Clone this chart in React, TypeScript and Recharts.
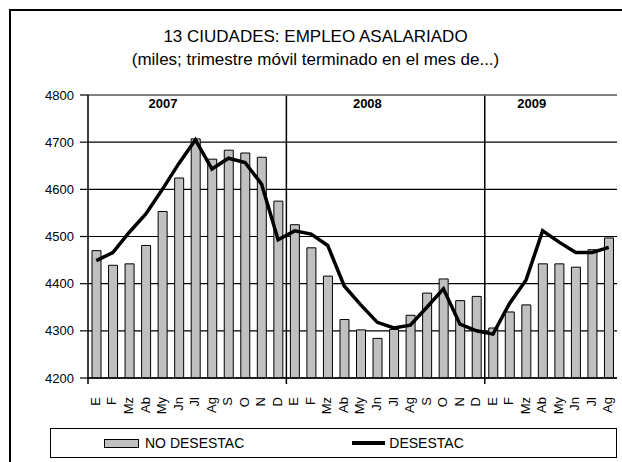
import React from 'react';
import {
  ComposedChart,
  Bar,
  Line,
  XAxis,
  YAxis,
  CartesianGrid,
  ReferenceArea,
  ReferenceLine,
  Legend,
} from 'recharts';

const MONTHS = ['E', 'F', 'Mz', 'Ab', 'My', 'Jn', 'Jl', 'Ag', 'S', 'O', 'N', 'D'];
const YEARS = ['2007', '2008', '2009'];
const MONTHS_PER_YEAR = [12, 12, 8];

// Empleo asalariado, 13 ciudades (miles)
const noDesestac = [
  4470, 4439, 4442, 4481, 4553, 4624, 4707, 4664, 4683, 4677, 4668, 4575,
  4525, 4476, 4416, 4324, 4302, 4284, 4303, 4333, 4380, 4410, 4364, 4373,
  4306, 4340, 4355, 4442, 4442, 4435, 4472, 4497,
];
const desestac = [
  4449, 4466, 4509, 4548, 4600, 4655, 4705, 4643, 4666, 4657, 4611, 4493,
  4512, 4505, 4481, 4395, 4355, 4318, 4306, 4312, 4350, 4389, 4314, 4300,
  4293, 4358, 4408, 4512, 4488, 4466, 4466, 4477,
];
const Y_TICKS = [4200, 4300, 4400, 4500, 4600, 4700, 4800];

const FONT = '"Liberation Sans", Arial, sans-serif';

type Row = { key: string; mes: string; noDesestac: number; desestac: number };

const data: Row[] = [];
YEARS.forEach((year, yi) => {
  for (let m = 0; m < MONTHS_PER_YEAR[yi]; m++) {
    const i = data.length;
    data.push({
      key: `${year}-${MONTHS[m]}`,
      mes: MONTHS[m],
      noDesestac: noDesestac[i],
      desestac: desestac[i],
    });
  }
});

const MonthTick = (props: any) => {
  const { x, y, payload } = props;
  const label = payload.value.split('-')[1];
  const ty = y + 11;
  return (
    <text
      x={x - 1}
      y={ty}
      transform={`rotate(-90 ${x - 1} ${ty})`}
      textAnchor="end"
      dy="0.36em"
      fontSize={13}
      fontFamily={FONT}
      fill="#000"
    >
      {label}
    </text>
  );
};

// year block: separator on the right edge (with a small tick under the axis) and the year caption
const yearShape = (year: string, dx: number, edge: boolean, startTick = false) => (p: any) => {
  const { x, y, width, height } = p;
  return (
    <g>
      {startTick && (
        <line x1={x} y1={y + height} x2={x} y2={y + height + 6} stroke="#000" strokeWidth={1.5} />
      )}
      {edge && (
        <line x1={x + width} y1={y} x2={x + width} y2={y + height + 6} stroke="#000" strokeWidth={1.5} />
      )}
      <text
        x={x + dx}
        y={y + 13}
        textAnchor="middle"
        fontSize={13}
        fontWeight="bold"
        fontFamily={FONT}
        fill="#000"
      >
        {year}
      </text>
    </g>
  );
};

const LegendBox = () => (
  <div
    style={{
      boxSizing: 'border-box',
      height: 30,
      border: '1.5px solid #000',
      display: 'flex',
      alignItems: 'center',
      fontFamily: FONT,
      fontSize: 14,
      color: '#000',
    }}
  >
    <span
      style={{
        marginLeft: 53,
        width: 33,
        height: 7,
        background: '#c0c0c0',
        border: '1px solid #000',
      }}
    />
    <span style={{ marginLeft: 6 }}>NO DESESTAC</span>
    <span style={{ marginLeft: 108, width: 33, height: 4, background: '#000' }} />
    <span style={{ marginLeft: 4 }}>DESESTAC</span>
  </div>
);

export default function App() {
  return (
    <div
      style={{
        position: 'absolute',
        left: 0,
        top: 0,
        width: 622,
        height: 462,
        overflow: 'hidden',
        background: '#fff',
        fontFamily: FONT,
      }}
    >
      <div
        style={{
          position: 'absolute',
          left: 9,
          top: 9,
          width: 640,
          height: 480,
          border: '2px solid #000',
        }}
      />
      <div
        style={{
          position: 'absolute',
          left: 9,
          top: 25,
          width: 613,
          textAlign: 'center',
          fontSize: 17,
          lineHeight: '23px',
          color: '#000',
        }}
      >
        <div>13 CIUDADES: EMPLEO ASALARIADO</div>
        <div>(miles; trimestre móvil terminado en el mes de...)</div>
      </div>
      <div style={{ position: 'absolute', left: 0, top: 0 }}>
        <ComposedChart
          width={622}
          height={462}
          data={data}
          margin={{ top: 95, right: 5, bottom: 4, left: 0 }}
        >
          <CartesianGrid vertical={false} stroke="#000" strokeWidth={1.2} />
          <XAxis
            dataKey="key"
            interval={0}
            height={50}
            tickLine={false}
            axisLine={{ stroke: '#000', strokeWidth: 1.5 }}
            tick={<MonthTick />}
          />
          <YAxis
            domain={[4200, 4800]}
            ticks={Y_TICKS}
            allowDataOverflow
            width={88}
            tickSize={8}
            tickMargin={6}
            axisLine={{ stroke: '#000', strokeWidth: 1.5 }}
            tickLine={{ stroke: '#000', strokeWidth: 1.2 }}
            tick={{ fill: '#000', fontSize: 13, fontFamily: FONT }}
          />
          <YAxis
            yAxisId="frame"
            orientation="right"
            width={0}
            domain={[0, 1]}
            tick={false}
            tickLine={false}
            axisLine={{ stroke: '#808080', strokeWidth: 1.5 }}
          />
          <ReferenceLine y={4800} stroke="#808080" strokeWidth={1.5} />
          <ReferenceArea x1="2007-E" x2="2007-D" shape={yearShape('2007', 75, true, true)} />
          <ReferenceArea x1="2008-E" x2="2008-D" shape={yearShape('2008', 81, true)} />
          <ReferenceArea x1="2009-E" x2="2009-Ag" shape={yearShape('2009', 47, false)} />
          <Bar
            dataKey="noDesestac"
            name="NO DESESTAC"
            barSize={9}
            fill="#c0c0c0"
            stroke="#000"
            strokeWidth={1}
            isAnimationActive={false}
          />
          <Line
            dataKey="desestac"
            name="DESESTAC"
            type="linear"
            stroke="#000"
            strokeWidth={3.5}
            dot={false}
            isAnimationActive={false}
          />
          <Legend
            verticalAlign="bottom"
            wrapperStyle={{ left: 50, width: 567 }}
            content={() => <LegendBox />}
          />
        </ComposedChart>
      </div>
    </div>
  );
}
